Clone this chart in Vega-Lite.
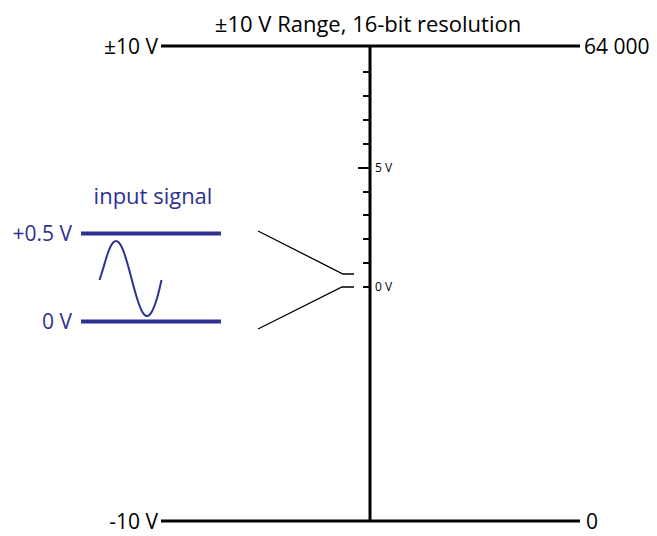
{
  "$schema": "https://vega.github.io/schema/vega-lite/v6.json",
  "width": 657,
  "height": 536,
  "padding": 0,
  "autosize": {"type": "none"},
  "background": "white",
  "config": {"view": {"stroke": null}},
  "datasets": {
    "thick": [
      {"x": 161, "x2": 580, "y": 46, "y2": 46},
      {"x": 161, "x2": 580, "y": 521, "y2": 521},
      {"x": 370, "x2": 370, "y": 46, "y2": 521}
    ],
    "ticks": [
      {"x": 363, "x2": 370, "y": 72},
      {"x": 363, "x2": 370, "y": 96},
      {"x": 363, "x2": 370, "y": 120},
      {"x": 363, "x2": 370, "y": 144},
      {"x": 358, "x2": 370, "y": 168},
      {"x": 363, "x2": 370, "y": 192},
      {"x": 363, "x2": 370, "y": 215},
      {"x": 363, "x2": 370, "y": 239},
      {"x": 363, "x2": 370, "y": 263},
      {"x": 363, "x2": 370, "y": 287}
    ],
    "blue": [
      {"x": 81, "x2": 221, "y": 233.5},
      {"x": 81, "x2": 221, "y": 321.5}
    ],
    "connectors": [
      {"g": "upper", "o": 1, "x": 258, "y": 231},
      {"g": "upper", "o": 2, "x": 343, "y": 274},
      {"g": "upper", "o": 3, "x": 354, "y": 274},
      {"g": "lower", "o": 1, "x": 258, "y": 329},
      {"g": "lower", "o": 2, "x": 342, "y": 287},
      {"g": "lower", "o": 3, "x": 354, "y": 287}
    ],
    "sine": [
      {"o": 0, "x": 99.5, "y": 280},
      {"o": 1, "x": 103.1, "y": 268.8},
      {"o": 2, "x": 105.7, "y": 259.8},
      {"o": 3, "x": 108.3, "y": 252.0},
      {"o": 4, "x": 110.8, "y": 246.0},
      {"o": 5, "x": 113.4, "y": 242.3},
      {"o": 6, "x": 116.0, "y": 241.0},
      {"o": 7, "x": 118.6, "y": 242.3},
      {"o": 8, "x": 121.2, "y": 246.0},
      {"o": 9, "x": 123.8, "y": 252.0},
      {"o": 10, "x": 126.3, "y": 259.8},
      {"o": 11, "x": 128.9, "y": 268.8},
      {"o": 12, "x": 131.5, "y": 278.5},
      {"o": 13, "x": 134.1, "y": 288.2},
      {"o": 14, "x": 136.7, "y": 297.3},
      {"o": 15, "x": 139.3, "y": 305.0},
      {"o": 16, "x": 141.8, "y": 311.0},
      {"o": 17, "x": 144.4, "y": 314.7},
      {"o": 18, "x": 147.0, "y": 316.0},
      {"o": 19, "x": 149.6, "y": 314.7},
      {"o": 20, "x": 152.2, "y": 311.0},
      {"o": 21, "x": 154.8, "y": 305.0},
      {"o": 22, "x": 157.3, "y": 297.3},
      {"o": 23, "x": 159.6, "y": 288.2},
      {"o": 24, "x": 161.5, "y": 280.0}
    ],
    "labels": [
      {"t": "±10 V Range, 16-bit resolution", "x": 368, "y": 31.5, "a": "center", "c": "black", "s": "big"},
      {"t": "±10 V", "x": 158, "y": 54, "a": "right", "c": "black", "s": "big"},
      {"t": "64 000", "x": 584, "y": 54, "a": "left", "c": "black", "s": "big"},
      {"t": "-10 V", "x": 158, "y": 529, "a": "right", "c": "black", "s": "big"},
      {"t": "0", "x": 586, "y": 529, "a": "left", "c": "black", "s": "big"},
      {"t": "5 V", "x": 375, "y": 172, "a": "left", "c": "black", "s": "small"},
      {"t": "0 V", "x": 375, "y": 291, "a": "left", "c": "black", "s": "small"},
      {"t": "input signal", "x": 153, "y": 203.5, "a": "center", "c": "blue", "s": "big"},
      {"t": "+0.5 V", "x": 72, "y": 240.5, "a": "right", "c": "blue", "s": "big"},
      {"t": "0 V", "x": 72, "y": 328.5, "a": "right", "c": "blue", "s": "big"}
    ]
  },
  "encoding": {
    "x": {"field": "x", "type": "quantitative", "scale": {"domain": [0, 657], "range": [0, 657], "nice": false, "zero": false}, "axis": null},
    "y": {"field": "y", "type": "quantitative", "scale": {"domain": [0, 536], "range": [0, 536], "nice": false, "zero": false}, "axis": null}
  },
  "layer": [
    {
      "data": {"name": "thick"},
      "mark": {"type": "rule", "strokeWidth": 3, "color": "#000000"},
      "encoding": {"x2": {"field": "x2"}, "y2": {"field": "y2"}}
    },
    {
      "data": {"name": "ticks"},
      "mark": {"type": "rule", "strokeWidth": 2, "color": "#000000"},
      "encoding": {"x2": {"field": "x2"}}
    },
    {
      "data": {"name": "blue"},
      "mark": {"type": "rule", "strokeWidth": 4, "color": "#2e3192"},
      "encoding": {"x2": {"field": "x2"}}
    },
    {
      "data": {"name": "connectors"},
      "mark": {"type": "line", "strokeWidth": 1.3, "color": "#000000"},
      "encoding": {"detail": {"field": "g"}, "order": {"field": "o"}}
    },
    {
      "data": {"name": "sine"},
      "mark": {"type": "line", "strokeWidth": 2, "color": "#2e3192", "interpolate": "monotone"},
      "encoding": {"order": {"field": "o"}}
    },
    {
      "data": {"name": "labels"},
      "transform": [{"filter": "datum.a == 'center' && datum.c == 'black'"}],
      "mark": {"type": "text", "font": "Open Sans", "fontSize": 22, "baseline": "alphabetic", "align": "center", "color": "#000000"},
      "encoding": {"text": {"field": "t"}}
    },
    {
      "data": {"name": "labels"},
      "transform": [{"filter": "datum.a == 'right' && datum.c == 'black'"}],
      "mark": {"type": "text", "font": "Open Sans", "fontSize": 21, "baseline": "alphabetic", "align": "right", "color": "#000000"},
      "encoding": {"text": {"field": "t"}}
    },
    {
      "data": {"name": "labels"},
      "transform": [{"filter": "datum.a == 'left' && datum.s == 'big'"}],
      "mark": {"type": "text", "font": "Open Sans", "fontSize": 21, "baseline": "alphabetic", "align": "left", "color": "#000000"},
      "encoding": {"text": {"field": "t"}}
    },
    {
      "data": {"name": "labels"},
      "transform": [{"filter": "datum.s == 'small'"}],
      "mark": {"type": "text", "font": "Open Sans", "fontSize": 12, "baseline": "alphabetic", "align": "left", "color": "#000000"},
      "encoding": {"text": {"field": "t"}}
    },
    {
      "data": {"name": "labels"},
      "transform": [{"filter": "datum.c == 'blue' && datum.a == 'center'"}],
      "mark": {"type": "text", "font": "Open Sans", "fontSize": 22, "baseline": "alphabetic", "align": "center", "color": "#2e3192"},
      "encoding": {"text": {"field": "t"}}
    },
    {
      "data": {"name": "labels"},
      "transform": [{"filter": "datum.c == 'blue' && datum.a == 'right'"}],
      "mark": {"type": "text", "font": "Open Sans", "fontSize": 21, "baseline": "alphabetic", "align": "right", "color": "#2e3192"},
      "encoding": {"text": {"field": "t"}}
    }
  ]
}
